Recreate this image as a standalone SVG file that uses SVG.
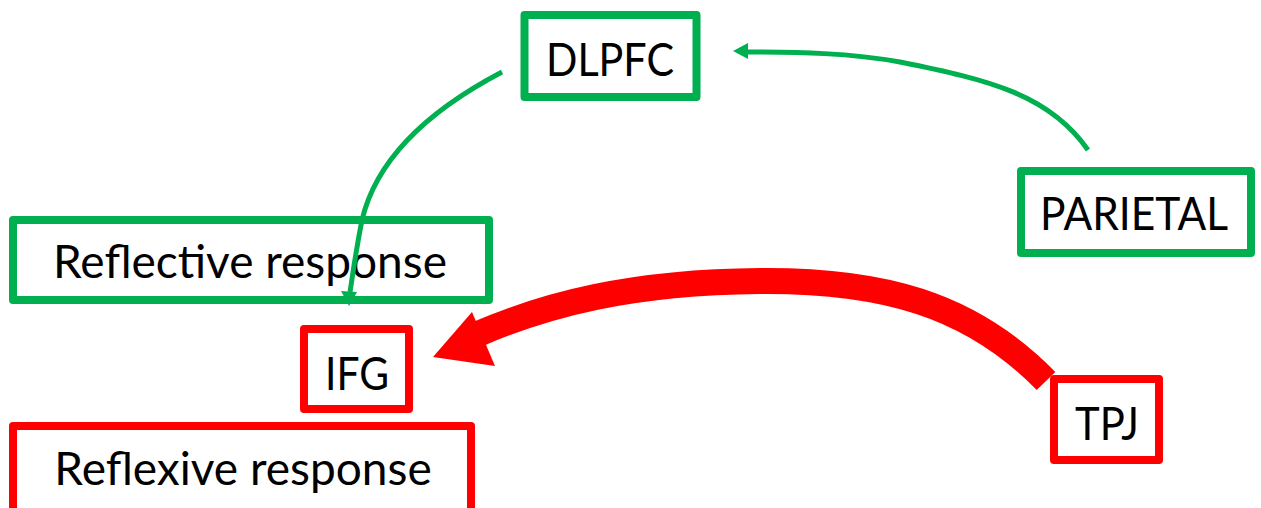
<svg xmlns="http://www.w3.org/2000/svg" width="1261" height="508" viewBox="0 0 1261 508">
<style>
.g{fill:#fff;stroke:#00b050;stroke-width:8;stroke-linejoin:round}
.r{fill:#fff;stroke:#ff0000;stroke-width:8;stroke-linejoin:round}
.t{font-family:Lato,"Open Sans",sans-serif;font-size:46px;fill:#000;text-anchor:middle}
.gl{fill:none;stroke:#00b050;stroke-width:5}
</style>
<rect width="1261" height="508" fill="#fff"/>
<g id="dlpfc"><rect class="g" x="524.5" y="15" width="172" height="82"/><text class="t" x="610" y="76" textLength="128" lengthAdjust="spacingAndGlyphs">DLPFC</text></g>
<g id="parietal"><rect class="g" x="1021" y="171" width="230" height="82"/><text class="t" x="1134" y="230" textLength="188" lengthAdjust="spacingAndGlyphs">PARIETAL</text></g>
<g id="reflective"><rect class="g" x="13" y="220" width="476" height="80"/><text class="t" x="250" y="278">Reflective response</text></g>
<g id="ifg"><rect class="r" x="304" y="329" width="105" height="80"/><text class="t" x="357" y="390" textLength="64" lengthAdjust="spacingAndGlyphs">IFG</text></g>
<g id="reflexive"><rect class="r" x="13" y="426" width="458" height="90"/><text class="t" x="243" y="485">Reflexive response</text></g>
<g id="tpj"><rect class="r" x="1054" y="379" width="105" height="81"/><text class="t" x="1107" y="440" textLength="64" lengthAdjust="spacingAndGlyphs">TPJ</text></g>
<g id="connectors">
<path class="gl" d="M1088,150 C1050,95 990,80 900,62 C850,53 800,52 745,52"/>
<polygon fill="#00b050" points="733,51 748,43 748,59"/>
<path class="gl" d="M502,72 C420,115 375,165 362,220 C355,255 352,280 350,292"/>
<polygon fill="#00b050" points="349,306 341,291 357,292"/>
<path fill="none" stroke="#ff0000" stroke-width="26" d="M1046,381 C970,303 880,280 760,281 C630,282 545,305 478,334"/>
<polygon fill="#ff0000" points="433,357 472,312 495,366"/>
</g>
</svg>
